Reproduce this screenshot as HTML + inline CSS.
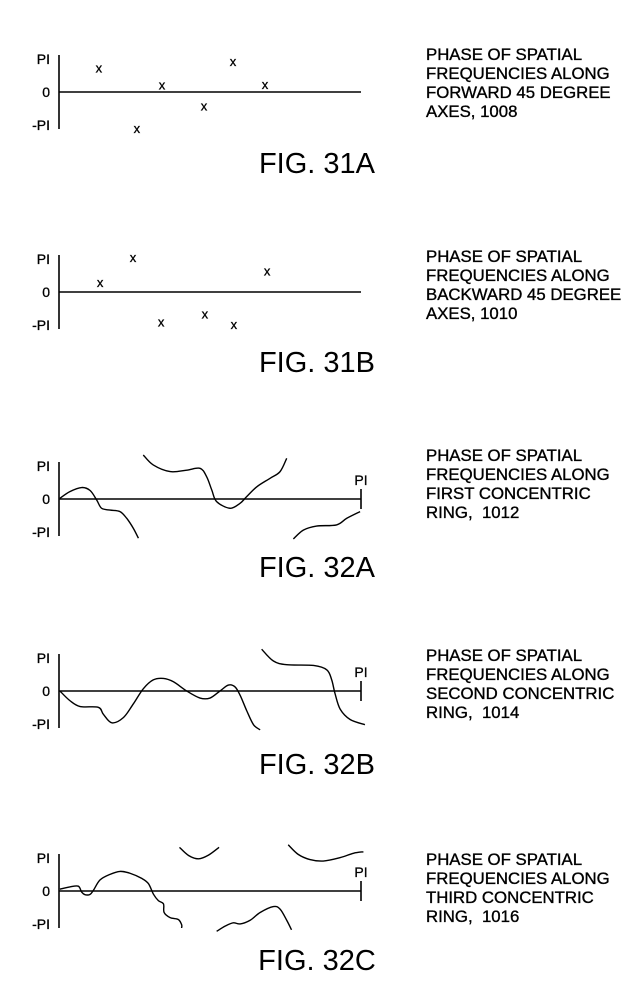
<!DOCTYPE html>
<html><head><meta charset="utf-8"><style>
html,body{margin:0;padding:0;background:#fff;}
svg{display:block;font-family:"Liberation Sans",Arial,sans-serif;}
</style></head><body>
<svg id="fig" width="639" height="997" viewBox="0 0 639 997" xmlns="http://www.w3.org/2000/svg"></svg>
<script>
// ---- data (t in 0..1 along ring/axis, v phase in units of PI) ----
const fig31aT = [0.132,0.258,0.341,0.480,0.576,0.682];
const fig31aV = [0.64,-1.0,0.17,-0.39,0.81,0.19];
const fig31bT = [0.136,0.245,0.338,0.483,0.579,0.689];
const fig31bV = [0.25,0.92,-0.83,-0.61,-0.89,0.56];

const fig32aC1T = [0.003,0.036,0.075,0.103,0.125,0.141,0.169,0.202,0.224,0.246,0.263];
const fig32aC1V = [0.02,0.2,0.31,0.23,-0.03,-0.25,-0.3,-0.34,-0.52,-0.79,-1.06];
const fig32aC2T = [0.279,0.312,0.368,0.423,0.467,0.489,0.506,0.522,0.566,0.599,0.621,0.655,0.699,0.732,0.754];
const fig32aC2V = [1.19,0.92,0.74,0.78,0.83,0.60,0.24,-0.07,-0.25,-0.12,0.06,0.33,0.56,0.74,1.10];
const fig32aC3T = [0.776,0.809,0.853,0.919,0.953,0.997];
const fig32aC3V = [-1.08,-0.84,-0.73,-0.70,-0.52,-0.34];

const fig32bC1T = [0.003,0.036,0.070,0.130,0.147,0.175,0.213,0.246,0.279,0.312,0.346,0.379,0.423,0.467,0.500,0.533,0.561,0.583,0.600,0.622,0.644,0.666];
const fig32bC1V = [0,-0.26,-0.42,-0.44,-0.63,-0.86,-0.72,-0.35,0.06,0.30,0.34,0.25,0,-0.19,-0.19,0,0.16,0.11,-0.12,-0.54,-0.91,-1.05];
const fig32bC2T = [0.671,0.710,0.754,0.843,0.887,0.903,0.914,0.931,0.964,1.013];
const fig32bC2V = [1.13,0.81,0.71,0.69,0.57,0.30,-0.07,-0.49,-0.77,-0.91];

const fig32cC1T = [0.003,0.036,0.064,0.075,0.086,0.103,0.114,0.136,0.169,0.202,0.235,0.274,0.296,0.313,0.329,0.346,0.348,0.368,0.395,0.406,0.406];
const fig32cC1V = [0.05,0.11,0.13,-0.03,-0.10,-0.09,0.02,0.30,0.45,0.53,0.48,0.34,0.20,-0.09,-0.26,-0.35,-0.58,-0.72,-0.77,-0.91,-1.0];
const fig32cC2T = [0.399,0.429,0.462,0.495,0.530];
const fig32cC2V = [1.18,0.96,0.87,0.97,1.18];
const fig32cC3T = [0.759,0.792,0.831,0.875,0.930,0.975,1.008];
const fig32cC3V = [1.25,0.99,0.85,0.81,0.90,1.02,1.06];
const fig32cC4T = [0.522,0.550,0.577,0.600,0.633,0.666,0.710,0.732,0.754,0.770];
const fig32cC4V = [-1.09,-0.95,-0.86,-0.89,-0.79,-0.58,-0.42,-0.49,-0.79,-1.05];

const axisLabels = ["PI","0","-PI"];

const NS = "http://www.w3.org/2000/svg";
const svg = document.getElementById("fig");
const X0 = 59, X1 = 361, UNIT = 37;
function sx(t){ return X0 + t*(X1-X0); }
function sy(zero,v){ return zero - v*UNIT; }
function el(tag, attrs, parent){
  const e = document.createElementNS(NS, tag);
  for (const k in attrs) e.setAttribute(k, attrs[k]);
  (parent||svg).appendChild(e);
  return e;
}

function panel(id, zero, endTick, desc, descY, figLabel, figY){
  const g = el("g", {});
  
  
  const ya = el("line", {x1:X0,y1:zero-UNIT,x2:X0,y2:zero+UNIT,stroke:"#000","stroke-width":1.6}, g);
  
  
  const xa = el("line", {x1:X0,y1:zero,x2:X1,y2:zero,stroke:"#000","stroke-width":1.6}, g);
  
  
  const offs = [-UNIT+4, 0, UNIT-4];
  axisLabels.forEach((s,i)=>{
    const tx = el("text", {x:50,y:zero+offs[i]+5,"text-anchor":"end","font-size":14,stroke:"#000","stroke-width":0.3}, g);
    tx.textContent = s;
    
    
  });
  if (endTick){
    const tk = el("line", {x1:X1,y1:zero-10,x2:X1,y2:zero+10,stroke:"#000","stroke-width":1.6}, g);
    
    
    const tl = el("text", {x:X1,y:zero-14,"text-anchor":"middle","font-size":14,stroke:"#000","stroke-width":0.3}, g);
    tl.textContent = "PI";
    
    
  }
  desc.forEach((line,i)=>{
    const d = el("text", {x:426,y:descY+i*19,"font-size":16.8,stroke:"#000","stroke-width":0.35,"xml:space":"preserve"}, g);
    d.style.whiteSpace = "pre";
    d.textContent = line;
    
    
  });
  const f = el("text", {x:317,y:figY,"text-anchor":"middle","font-size":29}, g);
  f.textContent = figLabel;
  
  
  return g;
}
function scatter(g, zero, T, V){
  T.forEach((t,i)=>{
    const m = el("text", {x:sx(t),y:sy(zero,V[i])+4,"text-anchor":"middle","font-size":13,stroke:"#000","stroke-width":0.3}, g);
    m.textContent = "x";
    
    
  });
}
function curve(g, zero, T, V){
  const pts = T.map((t,i)=>[sx(t), sy(zero,V[i])]);
  let d = "M"+pts[0][0]+","+pts[0][1];
  for (let i=0;i<pts.length-1;i++){
    const p0 = pts[i-1]||pts[i], p1 = pts[i], p2 = pts[i+1], p3 = pts[i+2]||p2;
    const c1x = p1[0]+(p2[0]-p0[0])/6, c1y = p1[1]+(p2[1]-p0[1])/6;
    const c2x = p2[0]-(p3[0]-p1[0])/6, c2y = p2[1]-(p3[1]-p1[1])/6;
    d += " C"+c1x+","+c1y+" "+c2x+","+c2y+" "+p2[0]+","+p2[1];
  }
  const p = el("path", {d:d,fill:"none",stroke:"#000","stroke-width":1.4}, g);
  
  
}

const gA = panel("fig-31a", 92, false, ["PHASE OF SPATIAL","FREQUENCIES ALONG","FORWARD 45 DEGREE","AXES, 1008"], 60, "FIG. 31A", 173);
scatter(gA, 92, fig31aT, fig31aV);
const gB = panel("fig-31b", 292, false, ["PHASE OF SPATIAL","FREQUENCIES ALONG","BACKWARD 45 DEGREE","AXES, 1010"], 262, "FIG. 31B", 372);
scatter(gB, 292, fig31bT, fig31bV);
const gC = panel("fig-32a", 499, true, ["PHASE OF SPATIAL","FREQUENCIES ALONG","FIRST CONCENTRIC","RING,  1012"], 461, "FIG. 32A", 577);
curve(gC, 499, fig32aC1T, fig32aC1V);
curve(gC, 499, fig32aC2T, fig32aC2V);
curve(gC, 499, fig32aC3T, fig32aC3V);
const gD = panel("fig-32b", 691, true, ["PHASE OF SPATIAL","FREQUENCIES ALONG","SECOND CONCENTRIC","RING,  1014"], 661, "FIG. 32B", 774);
curve(gD, 691, fig32bC1T, fig32bC1V);
curve(gD, 691, fig32bC2T, fig32bC2V);
const gE = panel("fig-32c", 891, true, ["PHASE OF SPATIAL","FREQUENCIES ALONG","THIRD CONCENTRIC","RING,  1016"], 865, "FIG. 32C", 970);
curve(gE, 891, fig32cC1T, fig32cC1V);
curve(gE, 891, fig32cC2T, fig32cC2V);
curve(gE, 891, fig32cC3T, fig32cC3V);
curve(gE, 891, fig32cC4T, fig32cC4V);
</script>
</body></html>
